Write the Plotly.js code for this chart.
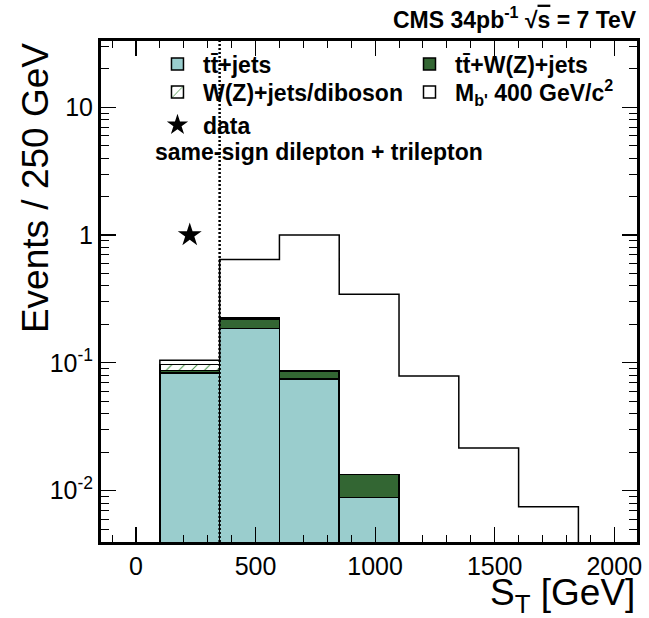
<!DOCTYPE html>
<html><head><meta charset="utf-8">
<script src="https://cdn.plot.ly/plotly-3.0.1.min.js"></script>
<style>html,body{margin:0;padding:0;background:#fff}</style>
</head><body><div id="chart" style="width:649px;height:618px"></div>
<script>
// ---- data ----
const binEdges    = [100, 350, 600, 850, 1100, 1350, 1600, 1850];   // S_T bins [GeV]
const ttbarJets   = [0.0834, 0.185, 0.0751, 0.00885, 0, 0, 0];
const ttbarWZJets = [0.0040, 0.033, 0.0113, 0.0046, 0, 0, 0];
const wzDiboson   = [0.0101, 0.006, 0, 0, 0, 0, 0];
const bprime400   = [0.0073, 0.421, 0.914, 0.331, 0.079, 0.0216, 0.0075]; // stacked on top of background
const dataX = [225];
const dataY = [1];
const stCut = 350;
const xTickVals = [0, 500, 1000, 1500, 2000];
const yTickVals = [0.01, 0.1, 1, 10];
const yTickText = ['10<sup>-2</sup>', '10<sup>-1</sup>', '1', '10'];
const xRange = [-146, 2095];
const yRangeLog = [-2.401, 1.518];

// ---- derived ----
const nb = binEdges.length - 1;
const centers = [], widths = [];
for (let i = 0; i < nb; i++) { centers.push((binEdges[i] + binEdges[i+1]) / 2); widths.push(binEdges[i+1] - binEdges[i]); }
const nz = a => a.map(v => v > 0 ? v : null);
const total = ttbarJets.map((v, i) => v + ttbarWZJets[i] + wzDiboson[i] + bprime400[i]);
const floor = Math.pow(10, yRangeLog[0] - 1);
const stepX = [binEdges[0]].concat(binEdges.slice(0, nb)).concat([binEdges[nb], binEdges[nb]]);
const stepY = [floor].concat(total).concat([total[nb-1], floor]);
const yMinor = [];
for (let k = -3; k <= 1; k++) for (let m = 2; m <= 9; m++) yMinor.push(m * Math.pow(10, k));

const FONT = 'Liberation Sans, Arial, Helvetica, sans-serif';
const edge = {color: '#000', width: 1.5};

const traces = [
  {type: 'bar', name: 'tt\u0304+jets', legend: 'legend', x: centers, y: nz(ttbarJets), width: widths,
   marker: {color: '#9acdcd', line: edge}, hoverinfo: 'skip'},
  {type: 'bar', name: 'tt\u0304+W(Z)+jets', legend: 'legend2', x: centers, y: nz(ttbarWZJets), width: widths,
   marker: {color: '#336633', line: edge}, hoverinfo: 'skip'},
  {type: 'bar', name: 'W(Z)+jets/diboson', legend: 'legend3', x: centers, y: nz(wzDiboson), width: widths,
   marker: {color: '#ffffff', line: edge,
            pattern: {shape: '/', fgcolor: '#4e9a4e', bgcolor: '#ffffff', size: 9, solidity: 0.12}},
   hoverinfo: 'skip'},
  {type: 'bar', name: "M<sub>b'</sub> 400 GeV/c<sup>2</sup>", legend: 'legend4', x: [null], y: [null],
   marker: {color: '#ffffff', line: edge}, hoverinfo: 'skip'},
  {type: 'scatter', mode: 'lines', x: stepX, y: stepY, line: {shape: 'hv', color: '#000', width: 1.5},
   showlegend: false, hoverinfo: 'skip'},
  {type: 'scatter', mode: 'markers', name: 'data', legend: 'legend5', x: dataX, y: dataY,
   marker: {symbol: 'star', size: 18, color: '#000'}, hoverinfo: 'skip'}
];

const axisCommon = {
  showline: true, linewidth: 3, linecolor: '#000', mirror: 'allticks',
  ticks: 'inside', tickcolor: '#000', tickwidth: 1.2, showgrid: false, zeroline: false,
  tickfont: {family: FONT, size: 25, color: '#000'}
};
const legFont = {family: FONT, size: 23, weight: 'bold', color: '#000'};
const leg = (x, y) => ({orientation: 'v', x: x, xanchor: 'left', y: y, yanchor: 'top', itemwidth: 41,
                        bgcolor: 'rgba(0,0,0,0)', borderwidth: 0, font: legFont});

const layout = {
  width: 649, height: 618,
  margin: {l: 101, r: 12, t: 41, b: 76},
  paper_bgcolor: '#fff', plot_bgcolor: '#fff',
  barmode: 'stack', bargap: 0,
  font: {family: FONT, color: '#000'},
  xaxis: Object.assign({}, axisCommon, {
    range: xRange, tickmode: 'array', tickvals: xTickVals, ticklen: 15,
    minor: {tickmode: 'linear', tick0: 0, dtick: 100, ticks: 'inside', ticklen: 7, tickwidth: 1, tickcolor: '#000', showgrid: false}
  }),
  yaxis: Object.assign({}, axisCommon, {
    type: 'log', range: yRangeLog, tickmode: 'array', tickvals: yTickVals, ticktext: yTickText, ticklen: 15,
    minor: {tickmode: 'array', tickvals: yMinor, ticks: 'inside', ticklen: 8, tickwidth: 1, tickcolor: '#000', showgrid: false}
  }),
  showlegend: true,
  legend:  leg(0.0951, 0.9968),
  legend2: leg(0.5653, 0.9968),
  legend3: leg(0.0951, 0.9409),
  legend4: leg(0.5653, 0.9409),
  legend5: leg(0.0951, 0.8752),
  shapes: [
    {type: 'line', xref: 'x', yref: 'paper', x0: stCut, x1: stCut, y0: 0, y1: 1, layer: 'above',
     line: {color: '#000', width: 2.5, dash: '2px,2px'}}
  ],
  annotations: [
    {xref: 'paper', yref: 'paper', x: 1.004, y: 1.046, xanchor: 'right', yanchor: 'middle', showarrow: false,
     text: "CMS 34pb<sup>-1</sup> \u221A<span style='text-decoration:overline'>s</span> = 7 TeV",
     font: {family: FONT, size: 23, weight: 'bold', color: '#000'}},
    {xref: 'paper', yref: 'paper', x: 0.0972, y: 0.778, xanchor: 'left', yanchor: 'middle', showarrow: false,
     text: 'same-sign dilepton + trilepton', font: {family: FONT, size: 23, weight: 'bold', color: '#000'}},
    {xref: 'paper', yref: 'paper', x: 1.0, y: -0.106, xanchor: 'right', yanchor: 'middle', showarrow: false,
     text: 'S<sub>T</sub> [GeV]', font: {family: FONT, size: 37, color: '#000'}},
    {xref: 'paper', yref: 'paper', x: -0.123, y: 1.0, xanchor: 'center', yanchor: 'top', showarrow: false,
     textangle: -90, text: 'Events / 250 GeV', font: {family: FONT, size: 37, color: '#000'}}
  ]
};

Plotly.newPlot('chart', traces, layout, {staticPlot: true, displayModeBar: false});
</script></body></html>
